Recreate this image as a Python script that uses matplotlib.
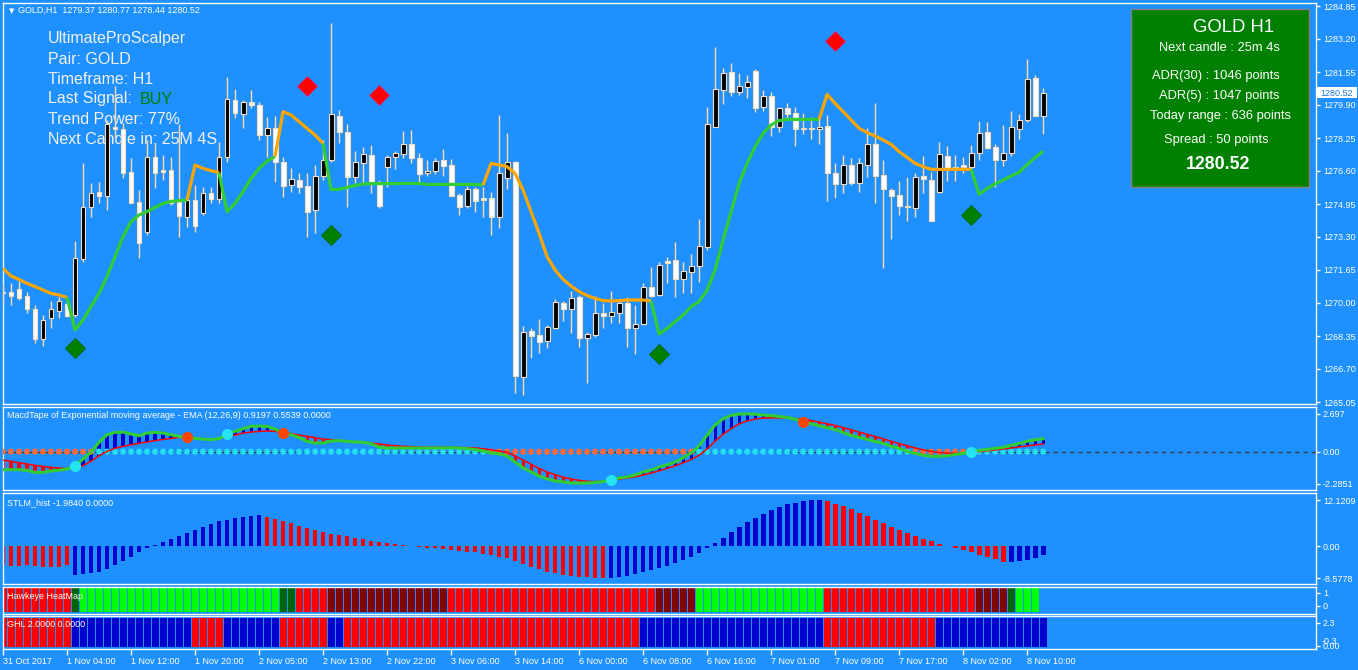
import numpy as np
import matplotlib
matplotlib.use('Agg')
import matplotlib.pyplot as plt
from matplotlib.patches import Rectangle

plt.rcParams['font.family'] = ['Liberation Sans', 'DejaVu Sans']

W, H = 1358, 670
BG = '#1E90FF'

# ---------------- data ----------------
opens = [1270.57,1270.53,1270.68,1270.35,1269.68,1268.18,1269.23,1269.60,1269.95,1269.40,
         1272.22,1274.82,1275.57,1275.35,1278.82,1278.70,1276.53,1275.03,1273.53,1277.32,
         1276.65,1276.63,1275.05,1274.32,1275.15,1274.48,1275.48,1275.18,1277.32,1280.15,
         1279.43,1280.05,1279.88,1278.38,1278.73,1277.03,1275.90,1276.15,1275.85,1274.65,
         1276.35,1277.15,1279.37,1278.57,1276.32,1276.98,1277.40,1276.07,1276.78,1277.28,
         1277.43,1277.93,1277.23,1276.48,1276.58,1277.15,1276.90,1275.40,1274.87,1275.68,
         1275.23,1275.23,1274.32,1276.23,1277.03,1266.32,1268.60,1268.40,1268.12,1268.77,
         1269.98,1269.68,1270.28,1268.23,1268.40,1269.48,1269.37,1269.52,1269.98,1268.73,
         1268.95,1270.78,1270.40,1272.10,1272.15,1271.22,1271.57,1271.87,1272.82,1278.82,
         1280.65,1281.53,1280.57,1280.82,1281.60,1279.82,1280.35,1278.82,1279.73,1279.48,
         1278.73,1278.73,1278.68,1278.85,1276.48,1275.95,1276.90,1276.02,1276.90,1277.95,
         1276.40,1275.65,1275.40,1274.85,1274.77,1276.35,1276.15,1275.53,1277.35,1276.80,
         1276.90,1276.82,1277.52,1278.53,1277.80,1277.17,1277.48,1278.72,1279.15,1281.23,
         1279.37]
highs = [1270.98,1270.98,1271.12,1270.57,1269.90,1269.40,1270.12,1270.32,1270.32,1273.12,
         1276.98,1276.02,1276.07,1279.15,1280.85,1278.98,1277.23,1275.65,1278.15,1277.98,
         1277.40,1277.32,1278.95,1275.32,1275.90,1275.82,1275.82,1278.07,1281.32,1280.68,
         1280.15,1280.65,1280.07,1279.32,1279.35,1277.32,1276.73,1276.48,1276.48,1276.90,
         1278.15,1284.02,1279.65,1278.95,1277.62,1277.78,1277.90,1276.15,1277.40,1277.62,
         1278.60,1278.65,1277.48,1277.15,1277.27,1277.70,1277.20,1275.48,1275.85,1275.82,
         1275.82,1275.53,1279.40,1278.48,1277.12,1268.85,1268.73,1269.18,1268.90,1270.18,
         1270.12,1270.60,1270.40,1268.57,1270.37,1270.02,1270.60,1270.18,1270.32,1269.90,
         1270.98,1271.78,1272.03,1272.28,1273.05,1272.03,1272.45,1274.20,1279.78,1282.78,
         1281.73,1281.98,1281.52,1281.40,1281.68,1280.65,1280.53,1279.82,1279.98,1279.78,
         1279.48,1279.28,1279.27,1279.40,1276.98,1277.40,1277.23,1277.23,1278.73,1280.02,
         1277.15,1275.73,1276.10,1276.28,1276.48,1277.35,1276.57,1278.07,1277.85,1277.40,
         1277.32,1277.90,1279.12,1279.05,1277.95,1278.90,1279.60,1279.43,1282.20,1281.40,
         1280.77]
lows = [1269.90,1269.90,1270.15,1269.48,1267.98,1267.85,1268.73,1269.23,1269.32,1269.32,
        1272.07,1274.32,1274.98,1274.65,1278.32,1276.23,1274.98,1272.23,1273.40,1275.73,
        1276.15,1274.90,1273.32,1273.82,1273.57,1274.40,1274.98,1274.98,1277.07,1279.23,
        1278.73,1279.73,1278.15,1277.32,1276.07,1275.32,1275.57,1275.48,1273.32,1273.48,
        1276.15,1277.07,1277.98,1274.82,1275.98,1275.98,1275.52,1274.77,1275.82,1276.68,
        1277.23,1277.02,1276.07,1276.37,1276.45,1276.37,1275.37,1274.40,1274.77,1274.57,
        1274.32,1273.40,1273.77,1275.70,1265.52,1265.40,1267.23,1267.52,1267.77,1268.70,
        1269.12,1268.52,1267.82,1265.98,1268.32,1268.73,1268.98,1269.02,1267.82,1267.43,
        1268.90,1270.32,1270.35,1271.02,1270.32,1270.48,1270.52,1271.07,1272.65,1278.78,
        1279.95,1280.37,1280.40,1280.23,1279.57,1279.60,1278.35,1278.57,1279.23,1277.85,
        1278.45,1278.20,1277.95,1275.10,1275.27,1275.48,1275.90,1275.57,1276.32,1275.02,
        1271.77,1273.20,1274.40,1274.12,1274.28,1275.52,1274.10,1275.52,1276.12,1276.12,
        1276.52,1276.68,1277.15,1277.70,1275.82,1276.87,1277.35,1278.20,1279.07,1279.37,
        1278.44]
closes = [1270.50,1270.37,1270.27,1269.72,1268.18,1269.15,1269.68,1270.08,1269.35,1272.23,
          1274.78,1275.52,1275.37,1278.93,1278.70,1276.52,1275.02,1273.02,1277.32,1276.52,
          1276.57,1274.98,1274.37,1275.15,1273.85,1275.48,1275.18,1277.32,1280.18,1279.48,
          1280.05,1279.88,1278.38,1278.73,1277.07,1275.87,1276.18,1275.82,1274.53,1276.35,
          1277.15,1279.43,1278.57,1276.32,1277.03,1277.43,1276.07,1274.87,1277.28,1277.48,
          1277.93,1277.23,1276.45,1276.58,1277.08,1276.87,1275.37,1274.82,1275.68,1275.12,
          1275.17,1274.32,1276.48,1277.03,1266.37,1268.53,1268.37,1268.07,1268.78,1270.03,
          1269.68,1270.27,1268.23,1268.43,1269.48,1269.37,1269.53,1270.02,1268.73,1268.93,
          1270.78,1270.37,1271.88,1271.98,1271.18,1271.58,1271.85,1272.87,1278.93,1280.68,
          1281.48,1280.57,1280.85,1281.03,1279.77,1280.35,1278.82,1279.73,1279.45,1278.68,
          1278.68,1278.70,1278.78,1276.48,1275.95,1276.90,1275.98,1276.98,1277.93,1276.37,
          1275.70,1275.37,1274.87,1274.78,1276.30,1276.18,1274.12,1277.45,1276.73,1276.75,
          1276.82,1277.48,1278.48,1277.77,1277.17,1277.48,1278.78,1279.15,1281.18,1279.37,
          1280.52]

# trailing trend line (orange = down state 'D', green = up state 'U')
trend_line = [1271.73,1271.35,1271.18,1270.98,1270.82,1270.65,1270.48,1270.40,1270.28,1268.65,
              1269.15,1269.82,1270.48,1271.32,1272.32,1273.32,1274.07,1274.40,1274.57,1274.78,
              1274.98,1275.08,1275.12,1275.15,1276.90,1276.73,1276.62,1276.52,1274.57,1274.98,
              1275.57,1276.23,1276.73,1277.10,1277.32,1279.57,1279.40,1279.07,1278.73,1278.40,
              1277.98,1275.68,1275.68,1275.78,1275.88,1275.95,1275.97,1275.97,1275.97,1275.97,
              1275.98,1275.98,1275.98,1275.93,1275.93,1275.93,1275.93,1275.93,1275.93,1275.93,
              1275.90,1276.98,1276.90,1276.82,1276.48,1275.65,1274.57,1273.48,1272.32,1271.65,
              1271.18,1270.85,1270.57,1270.37,1270.23,1270.12,1270.10,1270.12,1270.15,1270.15,
              1270.15,1270.10,1268.45,1268.73,1269.07,1269.40,1269.82,1270.07,1270.65,1271.65,
              1273.15,1274.57,1275.98,1276.98,1277.82,1278.48,1278.90,1279.12,1279.18,1279.18,
              1279.18,1279.18,1279.18,1280.43,1279.98,1279.57,1279.15,1278.73,1278.52,1278.35,
              1278.15,1277.93,1277.57,1277.28,1276.98,1276.82,1276.68,1276.68,1276.68,1276.68,
              1276.68,1276.68,1275.43,1275.73,1275.95,1276.15,1276.35,1276.53,1276.93,1277.27,
              1277.60]
trend_state = ("DDDDDDDDD" + "U" * 15 + "D" * 4 + "U" * 7 + "D" * 6 + "U" * 20 +
               "D" * 21 + "U" * 21 + "D" * 19 + "U" * 9)

sell_idx = [38, 47, 104]
sell_price = [1280.85, 1280.40, 1283.10]
buy_idx = [9, 41, 82, 121]
buy_price = [1267.75, 1273.40, 1267.45, 1274.40]

macd = [-1.29,-1.29,-1.29,-1.33,-1.48,-1.48,-1.38,-1.33,-1.24,-1.05,
        -0.52,-0.03,0.67,1.21,1.38,1.40,1.26,1.14,1.33,1.38,
        1.33,1.21,1.10,1.02,0.95,0.90,0.86,0.93,1.26,1.45,
        1.64,1.81,1.83,1.81,1.62,1.33,1.21,1.02,0.74,0.62,
        0.62,0.76,0.79,0.74,0.69,0.67,0.57,0.33,0.26,0.26,
        0.26,0.26,0.26,0.26,0.26,0.26,0.28,0.26,0.22,0.15,
        0.05,-0.09,-0.16,-0.31,-0.74,-1.16,-1.45,-1.74,-1.95,-2.09,
        -2.16,-2.24,-2.24,-2.24,-2.20,-2.14,-2.02,-1.88,-1.81,-1.66,
        -1.45,-1.31,-1.09,-0.95,-0.74,-0.45,-0.09,0.41,1.19,1.91,
        2.35,2.60,2.69,2.70,2.68,2.62,2.58,2.52,2.45,2.32,
        2.15,2.00,1.85,1.72,1.58,1.37,1.16,1.02,0.88,0.74,
        0.60,0.38,0.24,0.02,-0.12,-0.26,-0.33,-0.33,-0.30,-0.20,
        -0.12,0.00,0.09,0.16,0.24,0.31,0.45,0.59,0.74,0.85,0.92]
signal = [-0.60,-0.69,-0.79,-0.88,-0.98,-1.05,-1.12,-1.17,-1.21,-1.17,
          -1.00,-0.69,-0.29,0.02,0.24,0.38,0.50,0.60,0.69,0.79,
          0.88,0.95,1.02,1.04,0.98,0.93,0.90,0.95,1.05,1.19,
          1.33,1.40,1.45,1.48,1.45,1.38,1.29,1.19,1.10,1.00,
          0.90,0.86,0.81,0.76,0.71,0.67,0.62,0.55,0.48,0.43,
          0.38,0.36,0.33,0.31,0.31,0.31,0.31,0.30,0.29,0.27,
          0.21,0.13,0.05,-0.05,-0.30,-0.60,-0.90,-1.20,-1.45,-1.65,
          -1.82,-1.95,-2.05,-2.12,-2.14,-2.12,-2.04,-1.97,-1.89,-1.80,
          -1.67,-1.53,-1.37,-1.20,-1.01,-0.80,-0.56,-0.25,0.20,0.75,
          1.25,1.65,1.98,2.20,2.33,2.40,2.42,2.42,2.40,2.36,
          2.30,2.22,2.12,2.00,1.87,1.72,1.56,1.40,1.24,1.08,
          0.92,0.75,0.58,0.42,0.27,0.13,0.02,-0.06,-0.10,-0.12,
          -0.10,-0.05,0.00,0.06,0.12,0.19,0.26,0.34,0.41,0.48,0.55]
cross_up_idx = [9, 28, 76, 121]
cross_dn_idx = [23, 35, 100]

stlm = [-5.0,-5.2,-5.3,-5.0,-5.2,-5.5,-5.6,-5.5,-5.0,
        -7.8,-7.5,-7.2,-6.8,-6.0,-5.0,-4.0,-2.8,-1.6,-0.6,0.3,1.0,1.8,2.7,3.5,4.3,5.0,5.8,6.5,7.0,7.5,7.8,8.0,8.1,
        7.6,7.2,6.6,6.0,5.4,4.8,4.2,3.7,3.3,3.0,2.6,2.2,1.8,1.4,1.0,0.7,0.5,0.3,0.1,-0.2,-0.4,-0.6,-0.8,
        -1.0,-1.3,-1.5,-1.7,-2.0,-2.4,-2.8,-3.3,-4.0,-4.8,-5.5,-6.2,-6.8,-7.2,-7.6,-7.9,-8.1,-8.3,-8.5,-8.58,
        -8.4,-8.2,-7.9,-7.5,-7.0,-6.4,-5.8,-5.2,-4.5,-3.7,-2.8,-1.8,-0.6,0.8,2.2,3.6,5.0,6.3,7.5,8.5,9.5,
        10.3,11.0,11.5,11.9,12.05,12.12,
        11.8,11.2,10.5,9.7,8.8,7.9,7.0,6.0,5.1,4.2,3.4,2.6,1.9,1.2,0.6,0.1,-0.5,-1.1,-1.7,-2.3,-2.9,-3.5,-4.1,
        -4.2,-4.0,-3.6,-3.3,-2.4]
stlm_state = "R" * 9 + "B" * 24 + "R" * 43 + "B" * 27 + "R" * 23 + "B" * 5

hawkeye_state = ("R" * 9 + "G" + "L" * 25 + "G" * 2 + "R" * 4 + "M" * 15 + "R" * 26 +
                 "M" * 5 + "L" * 16 + "R" * 19 + "M" * 4 + "G" + "L" * 3)
ghl_state = ("R" * 9 + "B" * 15 + "R" * 4 + "B" * 7 + "R" * 6 + "B" * 2 + "R" * 37 +
             "B" * 23 + "R" * 14 + "B" * 14)

price_ticks = [1284.85, 1283.20, 1281.55, 1279.90, 1278.25, 1276.60, 1274.95,
               1273.30, 1271.65, 1270.00, 1268.35, 1266.70, 1265.05]
time_labels = ["31 Oct 2017", "1 Nov 04:00", "1 Nov 12:00", "1 Nov 20:00", "2 Nov 05:00",
               "2 Nov 13:00", "2 Nov 22:00", "3 Nov 06:00", "3 Nov 14:00", "6 Nov 00:00",
               "6 Nov 08:00", "6 Nov 16:00", "7 Nov 01:00", "7 Nov 09:00", "7 Nov 17:00",
               "8 Nov 02:00", "8 Nov 10:00"]
time_label_idx = list(range(0, 129, 8))

last_price = 1280.52
info_lines = ["UltimateProScalper", "Pair: GOLD", "Timeframe: H1", "Last Signal:",
              "Trend Power: 77%", "Next Candle in: 25M 4S"]
panel_lines = ["Next candle : 25m 4s", "ADR(30) : 1046 points", "ADR(5) : 1047 points",
               "Today range : 636 points", "Spread : 50 points"]

# ---------------- figure ----------------
n = len(opens)
idx = np.arange(n)
o = np.array(opens); h = np.array(highs); l = np.array(lows); c = np.array(closes)

fig = plt.figure(figsize=(W / 100, H / 100), dpi=100, facecolor=BG)

def fx(px):
    return px / W

def fy(py):
    return 1 - py / H

def add_ax(top, bottom):
    x0, x1 = 2.5, 1316
    ax = fig.add_axes([x0 / W, 1 - bottom / H, (x1 - x0) / W, (bottom - top) / H])
    ax.set_facecolor(BG)
    for s in ax.spines.values():
        s.set_color('white')
        s.set_linewidth(1.0)
    ax.set_xlim(-0.06, 164.1)
    ax.tick_params(axis='x', bottom=False, labelbottom=False)
    ax.yaxis.tick_right()
    ax.tick_params(axis='y', direction='out', length=3, width=1, colors='white',
                   labelsize=6.5, pad=2)
    return ax

SMALL = dict(fontsize=6.5, color='white')

# ---- main price panel ----
ax = add_ax(3, 404)
ax.set_ylim(1264.95, 1285.0)
ax.set_yticks(price_ticks)
ax.set_yticklabels([f"{v:.2f}" for v in price_ticks])

wick_col = '#FFDAB9'
ax.vlines(idx, l, h, color=wick_col, lw=1.0, zorder=3)
bull = c >= o
body_bot = np.minimum(o, c)
body_h = np.maximum(np.abs(c - o), 0.06)
ax.bar(idx, body_h, bottom=body_bot, width=0.62,
       color=np.where(bull, 'black', 'white'), edgecolor=wick_col, linewidth=0.8, zorder=4)

# trend line segments
tl = np.array(trend_line)
runs = []
start = 0
for i in range(1, n + 1):
    if i == n or trend_state[i] != trend_state[start]:
        runs.append((start, i - 1, trend_state[start]))
        start = i
for a, b, s in runs:
    a0 = max(a - 1, 0)
    ax.plot(idx[a0:b + 1], tl[a0:b + 1], color='#FFA500' if s == 'D' else '#32CD32',
            lw=2.3, zorder=5, solid_capstyle='butt')

ax.plot(sell_idx, sell_price, 'D', color='#FF0000', mec='#E0207A', mew=0.6, ms=10, zorder=6)
ax.plot(buy_idx, buy_price, 'D', color='#008000', mec='#006400', mew=0.6, ms=10, zorder=6)

# overlay text (behind candles)
for k, t in enumerate(info_lines):
    ax.text(fx(48), fy(43.5 + 20 * k), t, transform=fig.transFigure, fontsize=11.5,
            color='#F2F2F2', va='baseline', ha='left', zorder=1)
ax.text(fx(140), fy(103.5), "BUY", transform=fig.transFigure, fontsize=11.5,
        color='#008000', va='baseline', ha='left', zorder=1)

# header
fig.text(fx(9), fy(13.3), "\u25BC", fontsize=5, color='white', va='baseline', ha='left',
         family='DejaVu Sans')
fig.text(fx(18.3), fy(13.3), "GOLD,H1  %.2f %.2f %.2f %.2f" % (opens[-1], highs[-1], lows[-1], closes[-1]),
         va='baseline', ha='left', **SMALL)

# current price label
fig.add_artist(Rectangle((fx(1317), fy(97.5)), (1357 - 1317) / W, 10.5 / H,
                         transform=fig.transFigure, facecolor='white', edgecolor='none', zorder=5))
fig.text(fx(1320), fy(95.7), f"{last_price:.2f}", color='#1E78E0', va='baseline', ha='left',
         fontsize=6.5, zorder=6)

# green info box
fig.add_artist(Rectangle((fx(1130.5), fy(187.3)), (1309.3 - 1130.5) / W, (187.3 - 8.5) / H,
                         transform=fig.transFigure, facecolor='#008000', edgecolor='#808080',
                         linewidth=1.0, zorder=5))
fig.text(fx(1234), fy(31.7), "GOLD H1", color='white', fontsize=13.3, ha='center',
         va='baseline', zorder=6)
box_base = [50.7, 79.0, 98.8, 119.2, 143.3]
box_cx = [1219.5, 1216, 1219.5, 1221, 1216]
for t, yb, xc in zip(panel_lines, box_base, box_cx):
    fig.text(fx(xc), fy(yb), t, color='white', fontsize=9.3, ha='center', va='baseline', zorder=6)
fig.text(fx(1218), fy(169.3), f"{last_price:.2f}", color='white', fontsize=12.8,
         fontweight='bold', ha='center', va='baseline', zorder=6)

# ---- MACD tape panel ----
ax2 = add_ax(406.5, 490)
ax2.set_ylim(-2.74, 3.23)
ax2.set_yticks([2.697, 0.0, -2.2851])
ax2.set_yticklabels(["2.697", "0.00", "-2.2851"])
m = np.array(macd); sg = np.array(signal)
ax2.axhline(0, color='#3C3C3C', lw=1.0, ls=(0, (3, 3)), zorder=1)
ax2.bar(idx, m - sg, bottom=sg, width=0.38, color=np.where(m > sg, '#0000CD', '#FF0000'),
        zorder=2)
zc = np.where(m <= 0, '#FF6A3A', '#22E0F0')
ax2.scatter(idx, np.zeros(n), s=14, marker=(8, 2, 0), c=zc, linewidths=0.9, zorder=3)
ax2.plot(idx, sg, color='#FF0000', lw=1.1, zorder=4)
ax2.plot(idx, m, color='#32CD32', lw=2.2, zorder=5)
ax2.plot(cross_up_idx, m[cross_up_idx], 'o', color='#22E5F0', ms=7, zorder=6)
ax2.plot(cross_dn_idx, m[cross_dn_idx], 'o', color='#FF4500', ms=7, zorder=6)
ax2.text(fx(7.3), fy(418.5),
         "MacdTape of Exponential moving average - EMA (12,26,9) %.4f %.4f 0.0000" % (0.9197, 0.5539),
         transform=fig.transFigure, va='baseline', ha='left', zorder=7, **SMALL)

# ---- STLM hist panel ----
ax3 = add_ax(492.5, 584)
ax3.set_ylim(-10.05, 14.15)
ax3.set_yticks([12.1209, 0.0, -8.5778])
ax3.set_yticklabels(["12.1209", "0.00", "-8.5778"])
ax3.bar(idx, stlm, width=0.6, color=['#0000CD' if s == 'B' else '#FF0000' for s in stlm_state],
        zorder=2)
ax3.text(fx(7.3), fy(505), "STLM_hist -1.9840 0.0000", transform=fig.transFigure,
         va='baseline', ha='left', zorder=7, **SMALL)

# ---- Hawkeye heatmap ----
ax4 = add_ax(586.5, 613.5)
ax4.set_ylim(-0.577, 1.5)
ax4.set_yticks([1, 0])
ax4.set_yticklabels(["1", "0"])
hk_colors = {'R': '#FF0000', 'G': '#006400', 'L': '#00FF00', 'M': '#800000'}
hidx = np.arange(len(hawkeye_state))
ax4.bar(hidx, np.full(len(hidx), 1.93), bottom=-0.5, width=1.0,
        color=[hk_colors[s] for s in hawkeye_state], edgecolor=BG, linewidth=0.7, zorder=2)
ax4.text(fx(7.3), fy(599), "Hawkeye HeatMap", transform=fig.transFigure,
         va='baseline', ha='left', zorder=7, **SMALL)

# ---- GHL ----
ax5 = add_ax(615.5, 649)
ax5.set_ylim(-0.33, 3.02)
ax5.set_yticks([2.3, 0.0])
ax5.set_yticklabels(["2.3", "0.00"])
ax5.bar(idx, np.full(n, 2.98), bottom=-0.13, width=1.0,
        color=['#0000CD' if s == 'B' else '#FF0000' for s in ghl_state],
        edgecolor=BG, linewidth=0.7, zorder=2)
ax5.text(fx(7.3), fy(627), "GHL 2.0000 0.0000", transform=fig.transFigure,
         va='baseline', ha='left', zorder=7, **SMALL)
fig.text(fx(1322), fy(644), "-0.3", va='baseline', ha='left', **SMALL)
ax5.set_xticks(time_label_idx)
ax5.set_xticklabels(time_labels)
ax5.tick_params(axis='x', bottom=True, labelbottom=True, direction='out', length=4, width=1,
                colors='white', labelsize=6.5, pad=1.5)
for lab in ax5.get_xticklabels():
    lab.set_horizontalalignment('left')

fig.savefig('out.png', dpi=100, facecolor=BG)
